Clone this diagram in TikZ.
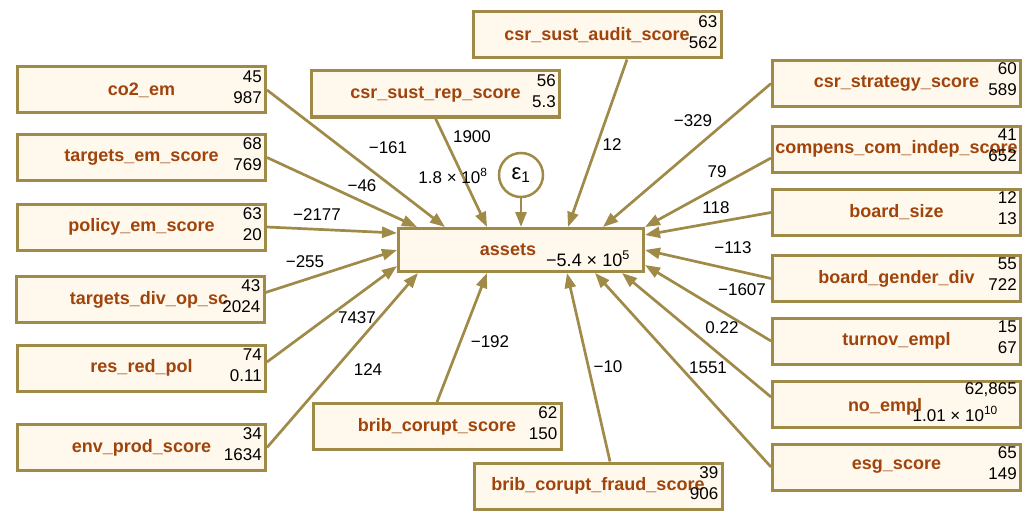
\documentclass[tikz,border=0pt]{standalone}
\usepackage{fontspec}
\setmainfont{Liberation Sans}
\usetikzlibrary{positioning,arrows.meta}
\definecolor{semgold}{HTML}{A08A48}
\definecolor{semfill}{HTML}{FFF8EC}
\definecolor{semname}{HTML}{A0440C}

\begin{document}
\begin{tikzpicture}
  [x=1pt,y=-1pt,
   box/.style={rectangle,draw=semgold,fill=semfill,line width=3pt,minimum width=248pt,minimum height=46pt,inner sep=0pt},
   vname/.style={inner sep=0pt,text=semname,font=\bfseries\fontsize{18}{20}\selectfont},
   vnum/.style={inner sep=0pt,anchor=east,font=\fontsize{17}{19}\selectfont},
   coef/.style={inner sep=0pt,font=\fontsize{17}{19}\selectfont},
   effect/.style={draw=semgold,line width=2.7pt,-{Triangle[length=15pt,width=11pt]}}]
  \useasboundingbox (0,0) rectangle (1029,511);

  % outcome
  \node[box,minimum width=245pt,minimum height=43pt] (assets) at (521,250) {};
  \node[vname] (assetsn) at (508,250) {assets};
  \node[coef,anchor=base east,font=\fontsize{18}{20}\selectfont] (assetsc) at (630,266) {−5.4 × 10\textsuperscript{5}};
  \node[circle,draw=semgold,fill=white,line width=2.5pt,minimum size=44pt,inner sep=0pt,font=\fontsize{22}{24}\selectfont] (eps) at (521,175) {ε\textsubscript{1}};

  % left column
  \node[box] (co2) at (141.5,90) {};
  \node[vname] (co2n) at (co2) {co2\_em};
  \node[vnum,xshift=-5pt,yshift=-11pt] (co2a) at (co2.north east) {45};
  \node[vnum,xshift=-5pt,yshift=-32pt] (co2b) at (co2.north east) {987};

  \node[box] (tem) at (141.5,157.5) {};
  \node[vname] (temn) at (tem) {targets\_em\_score};
  \node[vnum,xshift=-5pt,yshift=-11pt] (tema) at (tem.north east) {68};
  \node[vnum,xshift=-5pt,yshift=-32pt] (temb) at (tem.north east) {769};

  \node[box] (pol) at (141.5,227) {};
  \node[vname] (poln) at (pol) {policy\_em\_score};
  \node[vnum,xshift=-5pt,yshift=-11pt] (pola) at (pol.north east) {63};
  \node[vnum,xshift=-5pt,yshift=-32pt] (polb) at (pol.north east) {20};

  \node[box] (tdiv) at (140,299.5) {};
  \node[vname] (tdivn) at (149,300) {targets\_div\_op\_sc};
  \node[vnum,xshift=-5pt,yshift=-11pt] (tdiva) at (tdiv.north east) {43};
  \node[vnum,xshift=-5pt,yshift=-32pt] (tdivb) at (tdiv.north east) {2024};

  \node[box] (rrp) at (141.5,368) {};
  \node[vname] (rrpn) at (rrp) {res\_red\_pol};
  \node[vnum,xshift=-5pt,yshift=-11pt] (rrpa) at (rrp.north east) {74};
  \node[vnum,xshift=-5pt,yshift=-32pt] (rrpb) at (rrp.north east) {0.11};

  \node[box] (env) at (141.5,447.5) {};
  \node[vname] (envn) at (env) {env\_prod\_score};
  \node[vnum,xshift=-5pt,yshift=-11pt] (enva) at (env.north east) {34};
  \node[vnum,xshift=-5pt,yshift=-32pt] (envb) at (env.north east) {1634};

  % top and bottom
  \node[box] (rep) at (435.5,94) {};
  \node[vname] (repn) at (rep) {csr\_sust\_rep\_score};
  \node[vnum,xshift=-5pt,yshift=-11pt] (repa) at (rep.north east) {56};
  \node[vnum,xshift=-5pt,yshift=-32pt] (repb) at (rep.north east) {5.3};

  \node[box] (aud) at (597,35) {};
  \node[vname] (audn) at (aud) {csr\_sust\_audit\_score};
  \node[vnum,xshift=-5pt,yshift=-11pt] (auda) at (aud.north east) {63};
  \node[vnum,xshift=-5pt,yshift=-32pt] (audb) at (aud.north east) {562};

  \node[box] (bcs) at (437,426.5) {};
  \node[vname] (bcsn) at (bcs) {brib\_corupt\_score};
  \node[vnum,xshift=-5pt,yshift=-11pt] (bcsa) at (bcs.north east) {62};
  \node[vnum,xshift=-5pt,yshift=-32pt] (bcsb) at (bcs.north east) {150};

  \node[box] (bcf) at (598,486) {};
  \node[vname] (bcfn) at (bcf) {brib\_corupt\_fraud\_score};
  \node[vnum,xshift=-5pt,yshift=-11pt] (bcfa) at (bcf.north east) {39};
  \node[vnum,xshift=-5pt,yshift=-32pt] (bcfb) at (bcf.north east) {906};

  % right column
  \node[box] (str) at (896.5,83.5) {};
  \node[vname] (strn) at (str) {csr\_strategy\_score};
  \node[vnum,xshift=-5pt,yshift=-10pt] (stra) at (str.north east) {60};
  \node[vnum,xshift=-5pt,yshift=-31pt] (strb) at (str.north east) {589};

  \node[box] (cci) at (896.5,149) {};
  \node[vname] (ccin) at (cci) {compens\_com\_indep\_score};
  \node[vnum,xshift=-5pt,yshift=-10pt] (ccia) at (cci.north east) {41};
  \node[vnum,xshift=-5pt,yshift=-31pt] (ccib) at (cci.north east) {652};

  \node[box] (bsz) at (896.5,212.5) {};
  \node[vname] (bszn) at (bsz) {board\_size};
  \node[vnum,xshift=-5pt,yshift=-10pt] (bsza) at (bsz.north east) {12};
  \node[vnum,xshift=-5pt,yshift=-31pt] (bszb) at (bsz.north east) {13};

  \node[box] (bgd) at (896.5,278.5) {};
  \node[vname] (bgdn) at (bgd) {board\_gender\_div};
  \node[vnum,xshift=-5pt,yshift=-10pt] (bgda) at (bgd.north east) {55};
  \node[vnum,xshift=-5pt,yshift=-31pt] (bgdb) at (bgd.north east) {722};

  \node[box] (tov) at (896.5,341) {};
  \node[vname] (tovn) at (tov) {turnov\_empl};
  \node[vnum,xshift=-5pt,yshift=-10pt] (tova) at (tov.north east) {15};
  \node[vnum,xshift=-5pt,yshift=-31pt] (tovb) at (tov.north east) {67};

  \node[box] (nem) at (896.5,404) {};
  \node[vname] (nemn) at (885,407) {no\_empl};
  \node[vnum,xshift=-5pt,yshift=-10pt] (nema) at (nem.north east) {62,865};
  \node[vnum,anchor=base east] (nemb) at (998,421) {1.01 × 10\textsuperscript{10}};

  \node[box] (esg) at (896.5,467) {};
  \node[vname] (esgn) at (esg) {esg\_score};
  \node[vnum,xshift=-5pt,yshift=-10pt] (esga) at (esg.north east) {65};
  \node[vnum,xshift=-5pt,yshift=-31pt] (esgb) at (esg.north east) {149};

  % paths
  \draw[effect] (eps) -- (assets);
  \draw[effect] (co2.east) -- ([xshift=48pt]assets.north west);
  \draw[effect] (tem.east) -- ([xshift=20pt]assets.north west);
  \draw[effect] (pol.east) -- ([yshift=-6pt]assets.north west);
  \draw[effect] ([yshift=7pt]tdiv.east) -- (assets.west);
  \draw[effect] ([yshift=6pt]rrp.east) -- ([yshift=7pt]assets.south west);
  \draw[effect] (env.east) -- ([xshift=21pt]assets.south west);
  \draw[effect] (rep.south) -- ([xshift=90pt]assets.north west);
  \draw[effect] ([xshift=30pt]aud.south) -- ([xshift=171pt]assets.north west);
  \draw[effect] (bcs.north) -- ([xshift=90pt]assets.south west);
  \draw[effect] ([xshift=12pt]bcf.north) -- ([xshift=170pt]assets.south west);
  \draw[effect] (str.west) -- ([xshift=206pt]assets.north west);
  \draw[effect] ([yshift=-9pt]cci.west) -- (assets.north east);
  \draw[effect] (bsz.west) -- ([yshift=-8pt]assets.north east);
  \draw[effect] (bgd.west) -- (assets.east);
  \draw[effect] (tov.west) -- ([yshift=8pt]assets.south east);
  \draw[effect] ([yshift=7pt]nem.west) -- ([xshift=-23pt]assets.south east);
  \draw[effect] (esg.west) -- ([xshift=198pt]assets.south west);

  % coefficients
  \node[coef] (c1) at (388,148) {−161};
  \node[coef] (c2) at (362,186) {−46};
  \node[coef] (c3) at (317,215) {−2177};
  \node[coef] (c4) at (305,262) {−255};
  \node[coef] (c5) at (357,318) {7437};
  \node[coef] (c6) at (368,370) {124};
  \node[coef] (c7) at (490,342) {−192};
  \node[coef] (c8) at (472,137) {1900};
  \node[coef] (c9) at (453,176) {1.8 × 10\textsuperscript{8}};
  \node[coef] (c10) at (612,145) {12};
  \node[coef] (c11) at (693,121) {−329};
  \node[coef] (c12) at (717,172) {79};
  \node[coef] (c13) at (716,208) {118};
  \node[coef] (c14) at (733,248) {−113};
  \node[coef] (c15) at (742,290) {−1607};
  \node[coef] (c16) at (722,328) {0.22};
  \node[coef] (c17) at (708,368) {1551};
  \node[coef] (c18) at (608,367) {−10};
\end{tikzpicture}
\end{document}
